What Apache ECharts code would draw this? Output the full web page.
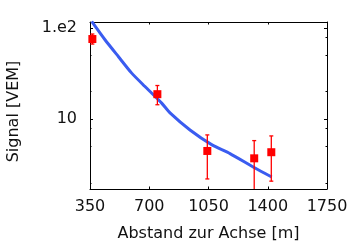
<!DOCTYPE html>
<html><head><meta charset="utf-8">
<script src="https://cdn.jsdelivr.net/npm/echarts@6/dist/echarts.min.js"></script>
<style>html,body{margin:0;padding:0;background:#fff}#c{width:360px;height:250px}</style>
</head><body><div id="c"></div>
<script>
// ---- data ----
const xTicks = [350, 700, 1050, 1400, 1750];
const yMajorTicks = [10, 100];
const yMajorLabels = ['10', '1.e2'];
const yMinorTicks = [2, 5, 8, 20, 50, 80];
const yRange = [1.714, 116.4];

const curveDist   = [360, 438.6, 517.2, 596.3, 674.9, 773.5, 822.7, 940.7, 1070.7, 1177, 1324.7, 1423.3];
const curveSignal = [118.2, 74.3, 48.7, 32.0, 22.8, 15.0, 11.7, 7.61, 5.22, 4.19, 2.91, 2.32];

const stationDist   = [364, 748, 1043, 1320, 1421];
const stationSignal = [75.7, 18.8, 4.48, 3.72, 4.34];
const stationLow    = [66.7, 14.4, 2.21, 1.2, 2.09];
const stationHigh   = [85.9, 23.4, 6.72, 5.82, 6.55];

// ---- chart ----
const L = Math.log10;
const FONT = 'DejaVu Sans';
const chart = echarts.init(document.getElementById('c'), null, {renderer: 'canvas'});

const lineStyleAxis = {color: '#000', width: 1};
function yAxisBase(pos, ticks, len, showLine) {
  return {
    type: 'value', position: pos, min: L(yRange[0]), max: L(yRange[1]),
    axisLine: {show: showLine, lineStyle: lineStyleAxis},
    axisTick: {show: true, inside: true, length: len, customValues: ticks.map(L), lineStyle: {color: '#000', width: 1}},
    axisLabel: {show: false}, splitLine: {show: false}
  };
}
const yMainLeft = yAxisBase('left', yMajorTicks, 3, true);
yMainLeft.axisLabel = {
  show: true, customValues: yMajorTicks.map(L), margin: 13,
  fontFamily: FONT, fontSize: 16, color: '#111',
  formatter: v => { const i = yMajorTicks.findIndex(t => Math.abs(L(t) - v) < 1e-6); return i >= 0 ? yMajorLabels[i] : ''; }
};
yMainLeft.name = 'Signal [VEM]';
yMainLeft.nameLocation = 'middle';
yMainLeft.nameGap = 68;
yMainLeft.nameTextStyle = {fontFamily: FONT, fontSize: 16, color: '#111', padding: [0, 12, 0, 0]};

const xBase = (pos, showLabel) => ({
  type: 'value', position: pos, min: xTicks[0], max: xTicks[xTicks.length - 1], interval: xTicks[1] - xTicks[0],
  axisLine: {show: true, lineStyle: lineStyleAxis},
  axisTick: {show: true, inside: true, length: 2.5, lineStyle: {color: '#000', width: 1}},
  axisLabel: {show: showLabel, margin: 10, fontFamily: FONT, fontSize: 16, color: '#111', formatter: v => String(v)},
  splitLine: {show: false}
});
const xMain = xBase('bottom', true);
xMain.name = 'Abstand zur Achse [m]';
xMain.nameLocation = 'middle';
xMain.nameGap = 37;
xMain.nameTextStyle = {fontFamily: FONT, fontSize: 16, color: '#111'};

const option = {
  backgroundColor: '#fff',
  animation: false,
  grid: {left: 90, right: 33, top: 22, bottom: 61, containLabel: false, outerBoundsMode: 'none'},
  xAxis: [xMain, xBase('top', false)],
  yAxis: [
    yMainLeft,
    yAxisBase('left', yMinorTicks, 1.5, false),
    yAxisBase('right', yMajorTicks, 3, true),
    yAxisBase('right', yMinorTicks, 1.5, false)
  ],
  series: [
    {
      type: 'line', xAxisIndex: 0, yAxisIndex: 0,
      data: curveDist.map((d, i) => [d, L(curveSignal[i])]),
      showSymbol: false, symbol: 'none', clip: true, smooth: 0.2,
      lineStyle: {color: '#3a5cf0', width: 3}, z: 2
    },
    {
      type: 'custom', xAxisIndex: 0, yAxisIndex: 0, z: 3,
      data: stationDist.map((d, i) => [d, L(stationLow[i]), L(stationHigh[i])]),
      renderItem: (params, api) => {
        const x = api.value(0);
        const top = api.coord([x, api.value(2)]);
        const bot = api.coord([x, api.value(1)]);
        const cs = params.coordSys;
        const yMin = cs.y, yMax = cs.y + cs.height;
        const st = {stroke: '#ff0000', lineWidth: 1.3};
        const ch = [{type: 'line', shape: {x1: top[0], y1: Math.max(top[1], yMin), x2: bot[0], y2: Math.min(bot[1], yMax)}, style: st}];
        if (top[1] >= yMin) ch.push({type: 'line', shape: {x1: top[0] - 2, y1: top[1], x2: top[0] + 2, y2: top[1]}, style: st});
        if (bot[1] <= yMax) ch.push({type: 'line', shape: {x1: bot[0] - 2, y1: bot[1], x2: bot[0] + 2, y2: bot[1]}, style: st});
        return {type: 'group', children: ch};
      }
    },
    {
      type: 'scatter', xAxisIndex: 0, yAxisIndex: 0, z: 4,
      data: stationDist.map((d, i) => [d, L(stationSignal[i])]),
      symbol: 'rect', symbolSize: 8,
      itemStyle: {color: '#ff0000', opacity: 1}
    }
  ]
};
chart.setOption(option);
</script>
</body></html>
